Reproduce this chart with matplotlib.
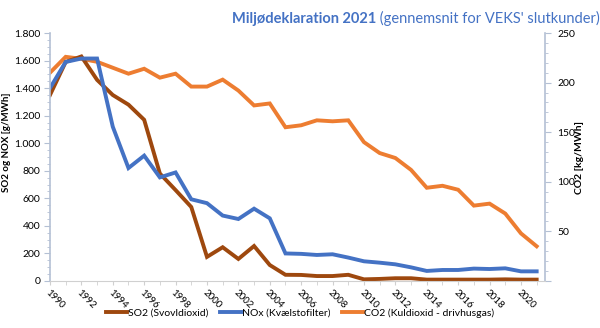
import numpy as np
import matplotlib
matplotlib.use("Agg")
import matplotlib.pyplot as plt
from matplotlib.ticker import MultipleLocator, FuncFormatter

plt.rcParams['font.family'] = ['Lato', 'DejaVu Sans']

years = np.arange(1990, 2022)
so2 = [1350, 1590, 1630, 1460, 1350, 1280, 1170, 780, 660, 537, 175, 245, 160, 254, 116, 45,
       44, 36, 36, 45, 12, 15, 20, 20, 10, 10, 10, 10, 10, 12, 10, 10]
nox = [1400, 1590, 1615, 1615, 1120, 820, 910, 752, 788, 593, 565, 475, 450, 525, 455, 200,
       197, 189, 194, 170, 143, 133, 121, 99, 73, 80, 80, 90, 87, 92, 70, 70]
co2 = [210, 226, 224, 221, 215, 209, 214, 205, 209, 196, 196, 203, 192, 177, 179, 155,
       157, 162, 161, 162, 140, 129, 124, 112, 94, 96, 92, 76, 78, 68, 48, 35]

labels = ['SO2 (Svovldioxid)', 'NOx (Kvælstofilter)', 'CO2 (Kuldioxid - drivhusgas)']
c_so2, c_nox, c_co2 = '#9E480E', '#4472C4', '#ED7D31'
axis_col = '#B4C0D4'

fig = plt.figure(figsize=(6, 3.28), dpi=100)
ax = fig.add_axes([0.0833, 0.1433, 0.825, 0.756])
ax2 = ax.twinx()

l1, = ax.plot(years, so2, color=c_so2, lw=2.8, solid_joinstyle='miter')
l2, = ax.plot(years, nox, color=c_nox, lw=2.8, solid_joinstyle='miter')
l3, = ax2.plot(years, co2, color=c_co2, lw=2.8, solid_joinstyle='miter')
ax.set_zorder(ax2.get_zorder() + 1)
ax.patch.set_visible(False)

ax.set_xlim(1990, 2021.53)
ax.set_ylim(0, 1800)
ax2.set_ylim(0, 250)

ax.yaxis.set_major_locator(MultipleLocator(200))
ax.yaxis.set_minor_locator(MultipleLocator(50))
ax.yaxis.set_major_formatter(FuncFormatter(lambda v, p: f"{int(v):,}".replace(',', '.')))
ax2.yaxis.set_major_locator(MultipleLocator(50))
ax2.yaxis.set_minor_locator(MultipleLocator(10))
ax2.yaxis.set_major_formatter(FuncFormatter(lambda v, p: '' if v == 0 else f"{int(v)}"))

ax.set_xticks(np.arange(1990, 2021, 2))
ax.set_xticks(years, minor=True)
ax.set_xticklabels([str(y) for y in range(1990, 2021, 2)], rotation=-45,
                   ha='left', va='top', rotation_mode='anchor')

for a in (ax, ax2):
    for s in a.spines.values():
        s.set_visible(False)
ax.spines['left'].set_visible(True)
ax.spines['left'].set_color(axis_col)
ax.spines['left'].set_linewidth(1.2)
ax.spines['bottom'].set_visible(True)
ax.spines['bottom'].set_color('#D0D0D0')
ax2.spines['right'].set_visible(True)
ax2.spines['right'].set_color(axis_col)
ax2.spines['right'].set_linewidth(1.2)

ax.tick_params(axis='y', which='major', length=4, color=axis_col, labelsize=7.5, pad=3)
ax.tick_params(axis='y', which='minor', length=2.5, color=axis_col)
ax2.tick_params(axis='y', which='major', length=4, color=axis_col, labelsize=7.5, pad=5)
ax2.tick_params(axis='y', which='minor', length=2.5, color=axis_col)
ax.tick_params(axis='x', which='both', length=3, color='#D0D0D0', labelsize=7, pad=2)

ax.set_ylabel('SO2 og NOX [g/MWh]', fontsize=7, fontweight='bold')
ax.yaxis.set_label_coords(-0.079, 0.56)
ax2.set_ylabel('CO2 [kg/MWh]', fontsize=7.5, fontweight='bold', rotation=90)
ax2.yaxis.set_label_coords(1.06, 0.5)

t1 = fig.text(0.387, 0.93, 'Miljødeklaration 2021', color=c_nox, fontsize=10.5,
              fontweight='bold', ha='left', va='baseline')
fig.canvas.draw()
ax.annotate(" (gennemsnit for VEKS' slutkunder)", xy=(1, 0), xycoords=t1,
            va='bottom', ha='left', color=c_nox, fontsize=10.5)

fig.legend([l1, l2, l3], labels, loc='center', bbox_to_anchor=(0.5, 0.045),
           ncol=3, frameon=False, fontsize=7.5, handlelength=2.0, handletextpad=0.1,
           columnspacing=1.1)

fig.savefig('out.png', dpi=100)
